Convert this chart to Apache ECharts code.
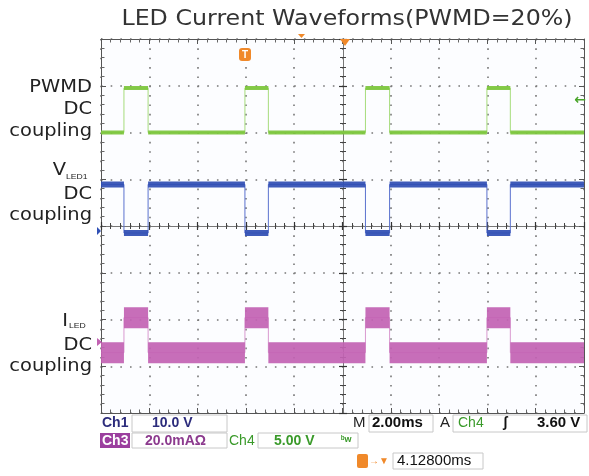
<!DOCTYPE html>
<html>
<head>
<meta charset="utf-8">
<script src="https://cdn.jsdelivr.net/npm/echarts@6/dist/echarts.min.js"></script>
<style>
  html, body { margin: 0; padding: 0; background: #ffffff; }
  #chart { width: 589px; height: 476px; }
</style>
</head>
<body>
<div id="chart"></div>
<script>
// time in ms (2.00 ms/div, 10 div), level in divisions from the bottom (8 div)
const pulseStart = [0.95, 5.96, 10.95, 15.98];
const pulseEnd = [1.95, 6.93, 11.95, 16.95];
// [idle level, level during pulse]
const pwmdLevels = [6.0, 6.95];
const vledLevels = [4.89, 3.85];
const iledLevels = [1.29, 2.04];

const chart = echarts.init(document.getElementById("chart"));

function edgePoints(levels) {
  const pts = [[0, levels[0]]];
  pulseStart.forEach((s, i) => {
    pts.push([s, levels[0]], [s, levels[1]], [pulseEnd[i], levels[1]], [pulseEnd[i], levels[0]]);
  });
  pts.push([20, levels[0]]);
  return pts;
}

function bandPoints(levels) {
  const pts = [[0, levels[0]]];
  pulseStart.forEach((s, i) => {
    pts.push([s, levels[0]], [s, "-"], [s, levels[1]], [pulseEnd[i], levels[1]], [pulseEnd[i], "-"], [pulseEnd[i], levels[0]]);
  });
  pts.push([20, levels[0]]);
  return pts;
}

function wave(name, levels, edgeColor, bandColor, bandWidth) {
  return [
    {
      name: name + " edge",
      type: "line",
      data: edgePoints(levels),
      symbol: "none",
      lineStyle: { color: edgeColor, width: 1 },
      animation: false,
      z: 3,
    },
    {
      name: name,
      type: "line",
      data: bandPoints(levels),
      symbol: "none",
      connectNulls: false,
      lineStyle: { color: bandColor, width: bandWidth, cap: "butt", opacity: 0.92 },
      animation: false,
      z: 4,
    },
  ];
}

const frameAxis = {
  axisLine: { show: true, onZero: false, lineStyle: { color: "#555", width: 1 } },
  axisTick: { show: true, inside: true, length: 5, lineStyle: { color: "#555" } },
  minorTick: { show: true, splitNumber: 5, length: 3.5, lineStyle: { color: "#666" } },
  axisLabel: { show: false },
  splitLine: { show: false },
};

const centerAxis = (inside) => ({
  axisLine: { show: true, onZero: false, lineStyle: { color: "#777", width: 1 } },
  axisTick: { show: true, inside: inside, length: 4, lineStyle: { color: "#333", width: 1.2 } },
  minorTick: { show: true, splitNumber: 5, length: 3, lineStyle: { color: "#444" } },
  axisLabel: { show: false },
  splitLine: { show: false },
});

const xBase = { type: "value", min: 0, max: 20, interval: 2 };
const yBase = { type: "value", min: 0, max: 8, interval: 1 };

const font = "DejaVu Sans";
function label(text, x, y, size, align, fontFace) {
  return {
    type: "text", x: x, y: y, scaleX: 1.08, z: 10,
    style: { text: text, x: 0, y: 0, fill: "#222", font: size + "px " + (fontFace || "'" + font + "'"), textAlign: align || "right", textVerticalAlign: "middle" },
  };
}
function stat(text, x, y, color, size, weight) {
  return {
    type: "text", x: x, y: y, z: 10,
    style: { text: text, fill: color, font: (weight || "bold") + " " + size + "px 'Liberation Sans'", textVerticalAlign: "middle" },
  };
}
function box(x, y, w, h) {
  return { type: "rect", shape: { x: x, y: y, width: w, height: h }, style: { fill: "none", stroke: "#c8c8c8", lineWidth: 1 }, z: 9 };
}

const options = {
  backgroundColor: "#ffffff",
  animation: false,
  grid: { left: 101, right: 5, top: 39, bottom: 63, show: true, backgroundColor: "#fcfdff", borderWidth: 0 },
  xAxis: [
    Object.assign({}, xBase, frameAxis, {
      position: "bottom",
      splitLine: { show: true, lineStyle: { color: "#777", width: 1.6, type: [1.6, 7.75], cap: "butt" } },
    }),
    Object.assign({}, xBase, frameAxis, { position: "top" }),
    Object.assign({}, xBase, centerAxis(true), { position: "bottom", offset: -187 }),
    Object.assign({}, xBase, centerAxis(false), { position: "bottom", offset: -187 }),
  ],
  yAxis: [
    Object.assign({}, yBase, frameAxis, {
      position: "left",
      splitLine: { show: true, lineStyle: { color: "#777", width: 1.6, type: [1.6, 8.06], cap: "butt" } },
    }),
    Object.assign({}, yBase, frameAxis, { position: "right" }),
    Object.assign({}, yBase, centerAxis(true), { position: "left", offset: -242 }),
    Object.assign({}, yBase, centerAxis(false), { position: "left", offset: -242 }),
  ],
  series: [].concat(
    wave("PWMD", pwmdLevels, "#a6dc7c", "#7cc63c", 4),
    wave("VLED1", vledLevels, "#5b72cf", "#2f4db3", 6),
    wave("ILED", iledLevels, "#d99ad0", "#c262b3", 21)
  ),
  graphic: [
    {
      type: "text", x: 347, y: 19.5, scaleX: 1.13, z: 10,
      style: { text: "LED Current Waveforms(PWMD=20%)", x: 0, y: 0, fill: "#333", font: "21px '" + font + "'", textAlign: "center", textVerticalAlign: "middle" },
    },
    label("PWMD", 92, 87, 18),
    label("DC", 92, 109, 18),
    label("coupling", 92, 131, 18),
    label("V", 66, 170, 18),
    label("LED1", 66, 177, 8, "left", "'Liberation Sans'"),
    label("DC", 92, 194, 18),
    label("coupling", 92, 215, 18),
    label("I", 68, 321, 18),
    label("LED", 69, 326, 8, "left", "'Liberation Sans'"),
    label("DC", 92, 345, 18),
    label("coupling", 92, 366, 18),
    // scope markers
    { type: "rect", shape: { x: 239, y: 48, width: 12, height: 13, r: 3 }, style: { fill: "#f0892a" }, z: 11 },
    { type: "text", x: 245, y: 55, z: 12, style: { text: "T", fill: "#fff", font: "bold 10px 'Liberation Sans'", textAlign: "center", textVerticalAlign: "middle" } },
    { type: "polygon", shape: { points: [[340, 39], [350, 39], [345, 46]] }, style: { fill: "#f0892a" }, z: 11 },
    { type: "polygon", shape: { points: [[298, 34], [305, 34], [301.5, 38]] }, style: { fill: "#f0892a" }, z: 11 },
    { type: "text", x: 580, y: 100, z: 11, style: { text: "\u2190", fill: "#4aa52a", font: "bold 14px 'DejaVu Sans'", textAlign: "center", textVerticalAlign: "middle" } },
    { type: "polygon", shape: { points: [[97, 227], [101, 231], [97, 235]] }, style: { fill: "#3050b5" }, z: 11 },
    { type: "polygon", shape: { points: [[97, 338], [102, 342], [97, 346]] }, style: { fill: "#c262b3" }, z: 11 },
    // status bar
    stat("Ch1", 102, 423, "#2c2c7c", 14),
    box(132, 415, 95, 17),
    stat("10.0 V", 152, 423, "#2c2c7c", 14),
    stat("M", 353, 423, "#222", 15, "normal"),
    box(369, 415, 64, 17),
    stat("2.00ms", 372, 423, "#111", 15),
    stat("A", 440, 423, "#222", 15, "normal"),
    box(453, 415, 134, 17),
    stat("Ch4", 458, 423, "#3a9a2a", 14, "normal"),
    stat("\u0283", 503, 423, "#111", 14),
    stat("3.60 V", 537, 423, "#111", 15),
    { type: "rect", shape: { x: 100, y: 433, width: 30, height: 15 }, style: { fill: "#9b3f9e" }, z: 9 },
    stat("Ch3", 102, 441, "#ffffff", 14),
    box(132, 433, 95, 15),
    stat("20.0mA\u03a9", 145, 441, "#8c3a8e", 14),
    stat("Ch4", 229, 441, "#3a9a2a", 14, "normal"),
    box(258, 433, 100, 15),
    stat("5.00 V", 274, 441, "#3a9a2a", 14),
    stat("\u1d47w", 341, 440, "#3a9a2a", 9),
    { type: "rect", shape: { x: 357, y: 454, width: 11, height: 14, r: 2 }, style: { fill: "#f0892a" }, z: 9 },
    stat("\u2192\u25bc", 369, 461, "#f0892a", 10),
    box(393, 453, 90, 16),
    stat("4.12800ms", 397, 461, "#111", 15, "normal"),
  ],
};

chart.setOption(options);
</script>
</body>
</html>
